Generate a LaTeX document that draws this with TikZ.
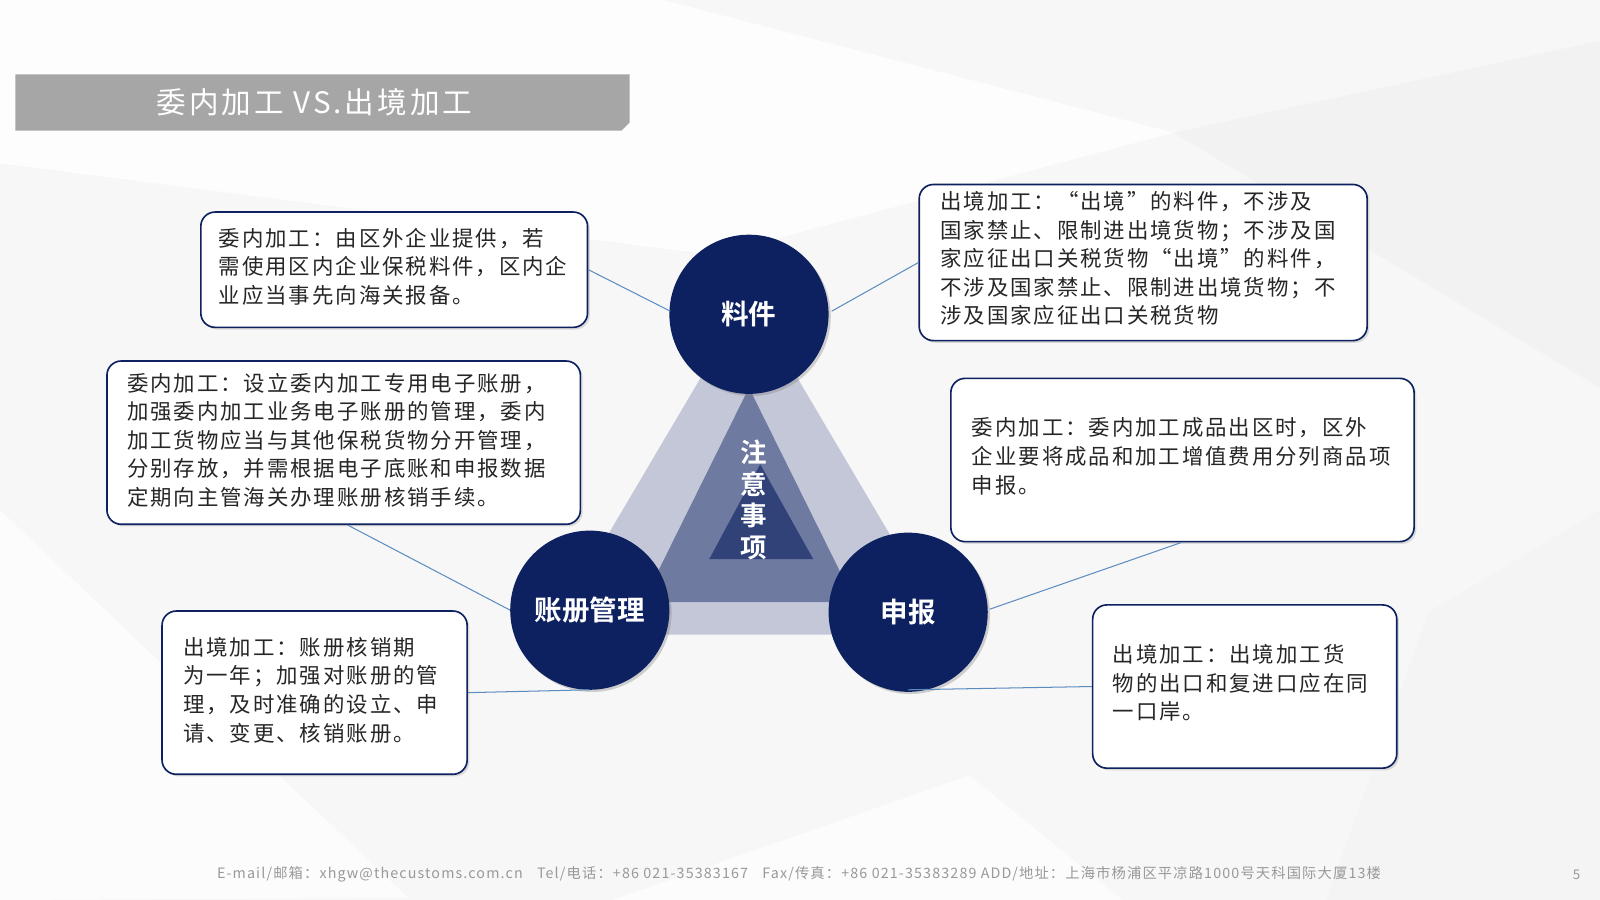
\documentclass[tikz,border=0pt]{standalone}
\usepackage{fontspec}
\newfontfamily\cjk[LetterSpace=9]{Noto Sans CJK SC}
\newfontfamily\cjkt[LetterSpace=10]{Noto Sans CJK SC}
\newfontfamily\cjkf[LetterSpace=8]{Noto Sans CJK SC}
\newfontfamily\cjkb{Noto Sans CJK SC Bold}
\usetikzlibrary{shadows}
\definecolor{navy}{HTML}{0D2160}
\definecolor{lnk}{HTML}{5B8CC0}
\begin{document}
\begin{tikzpicture}[x=1pt,y=-1pt,
  box/.style={draw=navy,line width=1.6pt,rounded corners=14pt,fill=white,drop shadow={opacity=0.25}},
  txt/.style={font=\cjk\fontsize{21}{28}\selectfont,text=black!85,align=left,anchor=north west},
  circ/.style={circle,fill=navy,minimum size=156pt,text=white,font=\cjkb\fontsize{27}{30}\selectfont,drop shadow={opacity=0.35}},
  lnkline/.style={draw=lnk,line width=1pt}]
\useasboundingbox (0,0) rectangle (1568,882);
\fill[gray!6] (0,0) rectangle (1568,882);
\fill[white,opacity=0.8] (0,0) -- (650,0) -- (1150,130) -- (700,250) -- (0,160) -- cycle;
\fill[gray!12,opacity=0.6] (1150,130) -- (1568,40) -- (1568,380) -- cycle;
\fill[white,opacity=0.7] (0,500) -- (400,880) -- (0,882) -- cycle;
\fill[white,opacity=0.7] (600,882) -- (950,760) -- (1100,882) -- cycle;
\fill[gray!10,opacity=0.6] (1400,600) -- (1568,500) -- (1568,882) -- (1300,882) -- cycle;
% title
\fill[gray!70] (15,73) -- (617,73) -- (617,120) -- (609,128) -- (15,128) -- cycle;
\node[anchor=west,text=white,font=\cjkt\fontsize{29}{30}\selectfont] (title) at (150,100) {委内加工 VS.出境加工};
% triangles
\fill[navy!25] (734,290) -- (930,622) -- (538,622) -- cycle;
\fill[navy!60] (734,380) -- (838,590) -- (630,590) -- cycle;
\fill[navy!85] (745,455) -- (797,548) -- (695,548) -- cycle;
\node[text=white,font=\cjkb\fontsize{26}{31}\selectfont,align=center] (center) at (739,490) {注\\意\\事\\项};
% circles
\node[circ] (c1) at (734,308) {料件};
\node[circ] (c2) at (578,598) {账册管理};
\node[circ] (c3) at (890,600) {申报};
% boxes
\node[box,minimum width=379pt,minimum height=113pt,anchor=north west] (b1) at (196,207) {};
\node[txt] at (211,220) {委内加工：由区外企业提供，若\\需使用区内企业保税料件，区内企\\业应当事先向海关报备。};
\node[box,minimum width=439pt,minimum height=153pt,anchor=north west] (b2) at (900,180) {};
\node[txt] at (918,184) {出境加工：“出境”的料件，不涉及\\国家禁止、限制进出境货物；不涉及国\\家应征出口关税货物“出境”的料件，\\不涉及国家禁止、限制进出境货物；不\\涉及国家应征出口关税货物};
\node[box,minimum width=464pt,minimum height=160pt,anchor=north west] (b3) at (104,353) {};
\node[txt] at (121,362) {委内加工：设立委内加工专用电子账册，\\加强委内加工业务电子账册的管理，委内\\加工货物应当与其他保税货物分开管理，\\分别存放，并需根据电子底账和申报数据\\定期向主管海关办理账册核销手续。};
\node[box,minimum width=454pt,minimum height=160pt,anchor=north west] (b4) at (931,370) {};
\node[txt] at (949,406) {委内加工：委内加工成品出区时，区外\\企业要将成品和加工增值费用分列商品项\\申报。};
\node[box,minimum width=299pt,minimum height=160pt,anchor=north west] (b5) at (158,598) {};
\node[txt] at (176,621) {出境加工：账册核销期\\为一年；加强对账册的管\\理，及时准确的设立、申\\请、变更、核销账册。};
\node[box,minimum width=298pt,minimum height=160pt,anchor=north west] (b6) at (1070,592) {};
\node[txt] at (1087,628) {出境加工：出境加工货\\物的出口和复进口应在同\\一口岸。};
% connectors
\coordinate (p1) at (657,305); \coordinate (p2) at (815,305);
\coordinate (p3) at (500,598); \coordinate (p4) at (578,676);
\coordinate (p5) at (970,597); \coordinate (p6) at (890,676);
\draw[lnkline] (b1.east) -- (p1);
\draw[lnkline] (b2.west) -- (p2);
\draw[lnkline] ([xshift=4pt]b3.south) -- (p3);
\draw[lnkline] (b5.east) -- (p4);
\draw[lnkline] ([xshift=-1pt]b4.south) -- (p5);
\draw[lnkline] (b6.west) -- (p6);
% footer
\node[text=gray!80,font=\cjkf\fontsize{14}{15}\selectfont] (foot) at (783,857) {E-mail/邮箱：xhgw@thecustoms.com.cn\quad Tel/电话：+86 021-35383167\quad Fax/传真：+86 021-35383289 ADD/地址：上海市杨浦区平凉路1000号天科国际大厦13楼};
\node[text=gray!80,font=\cjkf\fontsize{13}{15}\selectfont] (pg) at (1545,857) {5};
\end{tikzpicture}
\end{document}
